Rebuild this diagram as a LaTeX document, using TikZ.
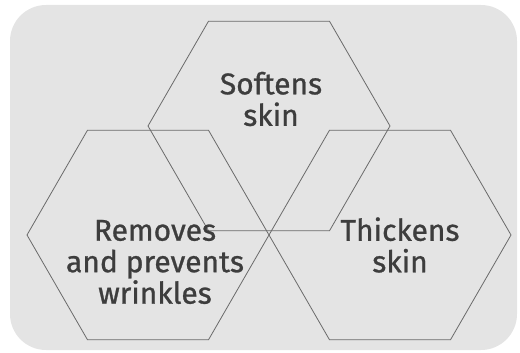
\documentclass[tikz,border=0pt]{standalone}
\usepackage{fontspec}
\setmainfont{Fira Sans}
\newfontfamily\lblfont{Fira Sans}[FakeBold=0.9]
\usetikzlibrary{calc}
\definecolor{bgc}{HTML}{E4E4E4}
\definecolor{linec}{HTML}{6A6A6A}
\definecolor{txtc}{HTML}{3D3D3D}
\tikzset{
  hex/.style={draw=linec, line width=0.8pt, line join=miter},
  lbl/.style={text=txtc, align=center, inner sep=0pt, font=\lblfont\fontsize{30}{31.5}\selectfont},
}
\begin{document}
\begin{tikzpicture}[x=1pt,y=-1pt]
\useasboundingbox (0,0) rectangle (520,353);
\fill[bgc, rounded corners=36pt] (10,5) rectangle (517,350);
\coordinate (t) at (269,126);
\coordinate (l) at (148,235);
\coordinate (r) at (390,235);
\foreach \c in {t,l,r}{
  \draw[hex] ($(\c)+(0:121)$) -- ++(120:121) -- ++(180:121) -- ++(240:121) -- ++(300:121) -- ++(0:121) -- cycle;
}
\node[lbl] (soft) at (271,99) {Softens\\skin};
\node[lbl] (rem) at (155,262) {Removes\\and prevents\\wrinkles};
\node[lbl] (thick) at (400,245) {Thickens\\skin};
\end{tikzpicture}
\end{document}
